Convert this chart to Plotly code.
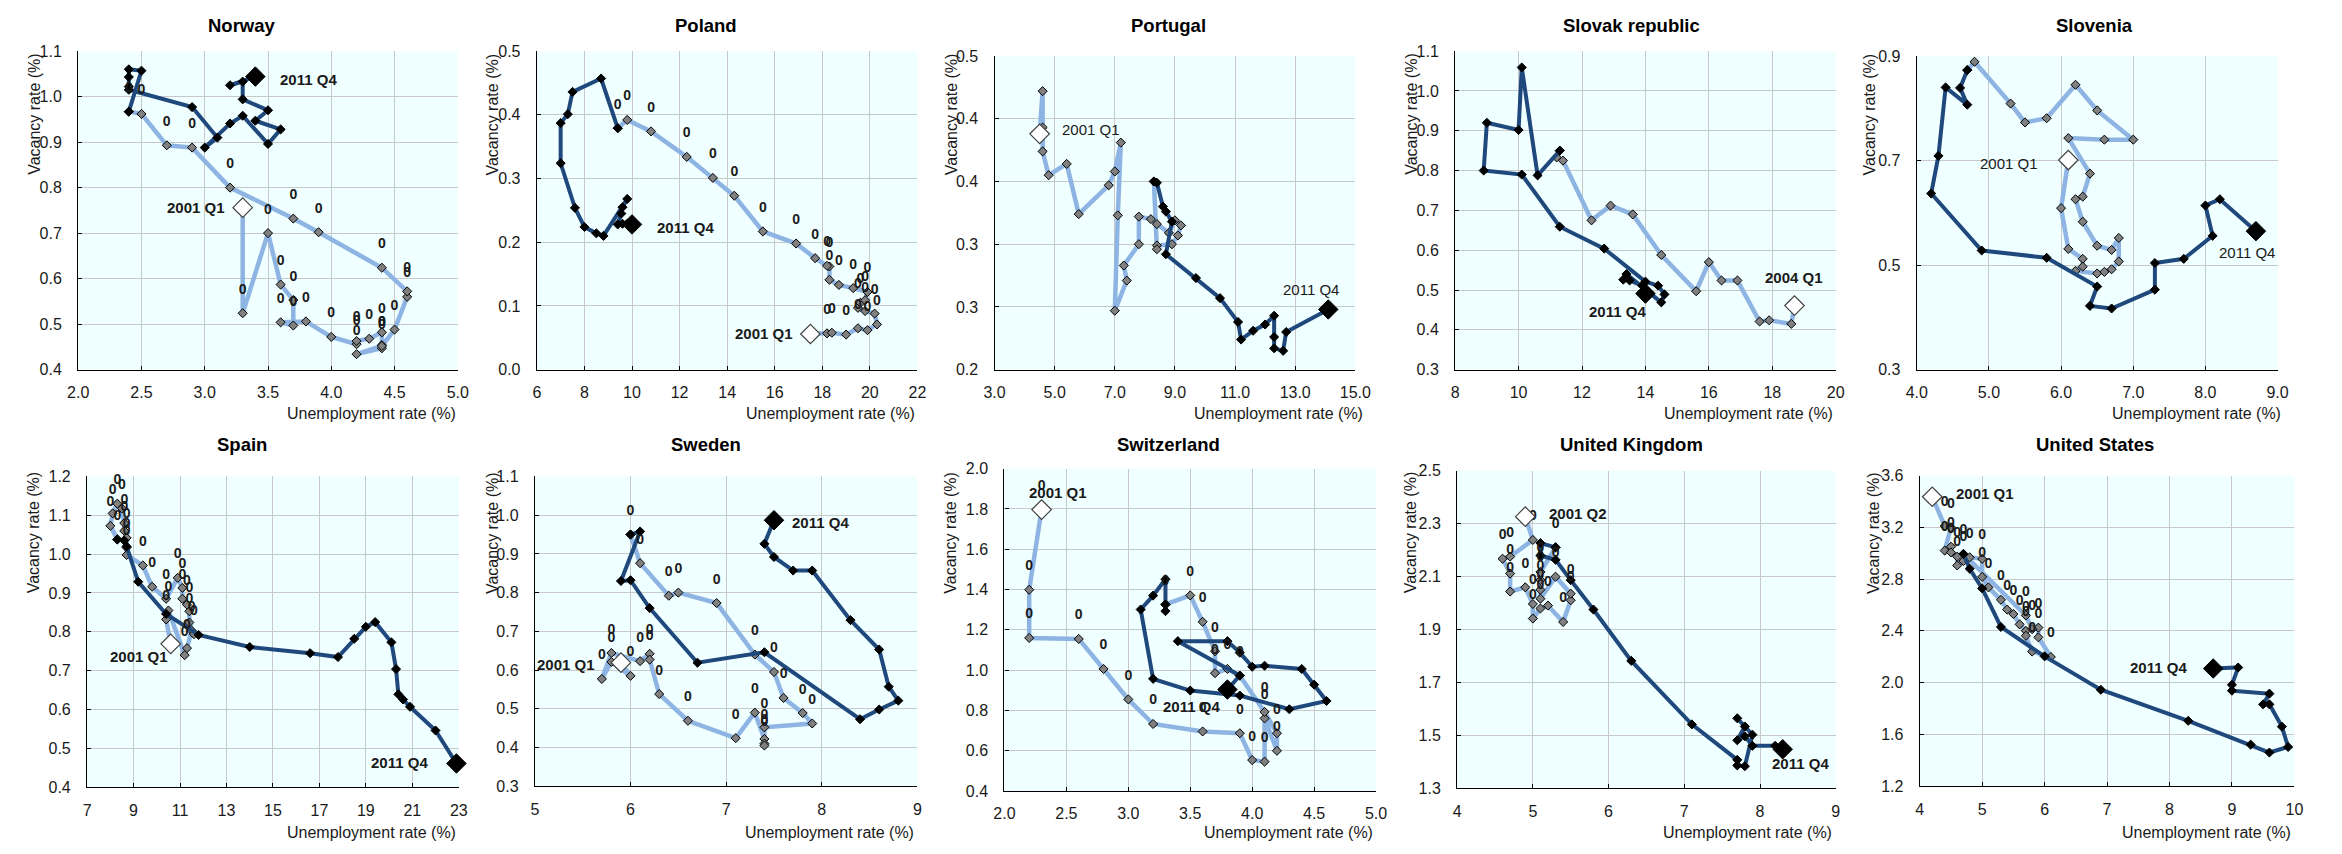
import plotly.graph_objects as go

# ---------------- DATA (unemployment rate U, vacancy rate V) ----------------
# Norway
NOR_START = [3.3, 0.756]
NOR_PRE_U = [3.3, 3.5, 3.6, 3.7, 3.7, 3.6, 3.8, 4.0, 4.2, 4.2, 4.3, 4.4, 4.4, 4.4, 4.2, 4.4, 4.5, 4.6, 4.6, 4.4, 3.9, 3.7, 3.2, 2.9, 2.7, 2.5, 2.4]
NOR_PRE_V = [0.524, 0.700, 0.587, 0.553, 0.497, 0.504, 0.506, 0.472, 0.456, 0.463, 0.468, 0.482, 0.454, 0.447, 0.434, 0.452, 0.488, 0.560, 0.572, 0.624, 0.702, 0.732, 0.800, 0.888, 0.893, 0.962, 0.967]
NOR_POST_U = [2.4, 2.5, 2.4, 2.4, 2.4, 2.4, 2.9, 3.1, 3.0, 3.2, 3.3, 3.5, 3.6, 3.4, 3.5, 3.3, 3.3, 3.2, 3.4]
NOR_POST_V = [0.967, 1.057, 1.060, 1.043, 1.022, 1.015, 0.977, 0.910, 0.888, 0.941, 0.958, 0.896, 0.928, 0.947, 0.970, 0.994, 1.033, 1.025, 1.044]
NOR_XTICKS = [2.0, 2.5, 3.0, 3.5, 4.0, 4.5, 5.0]
NOR_YTICKS = [0.4, 0.5, 0.6, 0.7, 0.8, 0.9, 1.0, 1.1]

# Poland
POL_START = [17.5, 0.056]
POL_PRE_U = [18.2, 18.4, 19.0, 19.5, 19.9, 20.3, 20.2, 19.8, 19.5, 19.6, 19.8, 19.9, 19.3, 18.7, 18.3, 18.3, 18.2, 17.7, 16.9, 15.5, 14.3, 13.4, 12.3, 10.8, 9.8, 9.4]
POL_PRE_V = [0.057, 0.058, 0.055, 0.065, 0.062, 0.071, 0.088, 0.092, 0.097, 0.105, 0.109, 0.122, 0.128, 0.133, 0.141, 0.162, 0.163, 0.175, 0.198, 0.217, 0.273, 0.301, 0.334, 0.374, 0.392, 0.379]
POL_POST_U = [9.4, 8.7, 7.5, 7.3, 7.0, 7.0, 7.6, 8.0, 8.5, 8.8, 9.8, 9.6, 9.55, 9.4, 9.6, 9.8, 10.0]
POL_POST_V = [0.379, 0.457, 0.436, 0.401, 0.387, 0.324, 0.254, 0.224, 0.214, 0.210, 0.268, 0.255, 0.245, 0.228, 0.229, 0.229, 0.228]
POL_XTICKS = [6, 8, 10, 12, 14, 16, 18, 20, 22]
POL_YTICKS = [0.0, 0.1, 0.2, 0.3, 0.4, 0.5]

# Portugal
PRT_START = [4.5, 0.388]
PRT_PRE_U = [4.6, 4.6, 4.6, 4.8, 5.4, 5.8, 6.8, 7.0, 7.2, 7.1, 7.0, 7.4, 7.3, 7.8, 7.8, 8.2, 8.4, 8.8, 9.0, 9.2, 9.1, 8.9, 8.4, 8.4, 8.3]
PRT_PRE_V = [0.422, 0.393, 0.374, 0.355, 0.364, 0.324, 0.347, 0.358, 0.381, 0.323, 0.247, 0.271, 0.283, 0.300, 0.322, 0.320, 0.316, 0.309, 0.319, 0.315, 0.307, 0.300, 0.299, 0.296, 0.350]
PRT_POST_U = [8.3, 8.4, 8.6, 8.7, 8.9, 8.7, 9.7, 10.5, 11.1, 11.2, 11.6, 12.0, 12.3, 12.3, 12.3, 12.6, 12.7, 14.1]
PRT_POST_V = [0.350, 0.349, 0.330, 0.326, 0.318, 0.292, 0.273, 0.257, 0.238, 0.224, 0.231, 0.236, 0.243, 0.226, 0.217, 0.215, 0.230, 0.248]
PRT_XTICKS = [3, 5, 7, 9, 11, 13, 15]
PRT_YTICKS = [0.2, 0.25, 0.3, 0.35, 0.4, 0.45]
PRT_YLABELS = ["0.2", "0.3", "0.3", "0.4", "0.4", "0.5"]

# Slovak republic
SVK_START = [18.7, 0.461]
SVK_PRE_U = [18.6, 17.9, 17.6, 16.9, 16.4, 16.0, 15.6, 14.5, 13.6, 12.9, 12.3, 11.4, 11.2, 11.3]
SVK_PRE_V = [0.415, 0.424, 0.421, 0.524, 0.524, 0.570, 0.497, 0.588, 0.690, 0.712, 0.675, 0.825, 0.833, 0.850]
SVK_POST_U = [11.3, 10.6, 10.1, 10.0, 9.0, 8.9, 10.1, 11.3, 12.7, 14.0, 14.4, 14.6, 14.5, 13.4, 13.3, 13.5, 13.9, 14.0]
SVK_POST_V = [0.850, 0.788, 1.059, 0.902, 0.920, 0.800, 0.790, 0.659, 0.604, 0.521, 0.511, 0.489, 0.469, 0.540, 0.526, 0.524, 0.511, 0.491]
SVK_XTICKS = [8, 10, 12, 14, 16, 18, 20]
SVK_YTICKS = [0.3, 0.4, 0.5, 0.6, 0.7, 0.8, 0.9, 1.0, 1.1]

# Slovenia
SVN_START = [6.1, 0.701]
SVN_PRE_U = [6.0, 6.1, 6.3, 6.3, 6.2, 6.5, 6.6, 6.7, 6.8, 6.8, 6.7, 6.5, 6.3, 6.2, 6.3, 6.4, 6.1, 6.6, 7.0, 6.5, 6.2, 5.8, 5.5, 5.3, 4.8, 4.7]
SVN_PRE_V = [0.609, 0.531, 0.512, 0.497, 0.489, 0.484, 0.487, 0.492, 0.507, 0.552, 0.529, 0.537, 0.583, 0.626, 0.631, 0.675, 0.743, 0.740, 0.740, 0.796, 0.845, 0.781, 0.773, 0.809, 0.889, 0.873]
SVN_POST_U = [4.7, 4.6, 4.7, 4.4, 4.3, 4.2, 4.9, 5.8, 6.5, 6.4, 6.7, 7.3, 7.3, 7.7, 8.1, 8.0, 8.2, 8.7]
SVN_POST_V = [0.873, 0.839, 0.807, 0.840, 0.709, 0.637, 0.528, 0.514, 0.459, 0.422, 0.417, 0.453, 0.504, 0.512, 0.556, 0.614, 0.626, 0.565]
SVN_XTICKS = [4, 5, 6, 7, 8, 9]
SVN_YTICKS = [0.3, 0.5, 0.7, 0.9]

# Spain
ESP_START = [10.6, 0.769]
ESP_PRE_U = [10.4, 10.5, 11.2, 11.3, 11.5, 11.6, 11.4, 11.4, 11.3, 11.1, 11.1, 10.9, 10.4, 9.8, 9.4, 8.7, 8.7, 8.7, 8.6, 8.6, 8.5, 8.3, 8.1, 8.0, 8.3]
ESP_PRE_V = [0.832, 0.855, 0.740, 0.758, 0.803, 0.794, 0.824, 0.853, 0.870, 0.885, 0.913, 0.939, 0.885, 0.916, 0.971, 0.998, 1.017, 1.042, 1.060, 1.080, 1.118, 1.130, 1.105, 1.073, 1.038]
ESP_POST_U = [8.3, 8.6, 8.7, 9.2, 10.4, 11.8, 14.0, 16.6, 17.8, 18.5, 19.0, 19.4, 20.1, 20.3, 20.4, 20.6, 20.9, 22.0, 22.9]
ESP_POST_V = [1.038, 1.035, 1.020, 0.929, 0.846, 0.792, 0.761, 0.745, 0.735, 0.782, 0.813, 0.825, 0.773, 0.704, 0.639, 0.626, 0.607, 0.546, 0.461]
ESP_XTICKS = [7, 9, 11, 13, 15, 17, 19, 21, 23]
ESP_YTICKS = [0.4, 0.5, 0.6, 0.7, 0.8, 0.9, 1.0, 1.1, 1.2]

# Sweden
SWE_START = [5.9, 0.619]
SWE_PRE_U = [6.0, 5.8, 5.7, 5.8, 6.1, 6.2, 6.2, 6.3, 6.6, 7.1, 7.3, 7.4, 7.4, 7.4, 7.4, 7.9, 7.8, 7.6, 7.5, 7.3, 6.9, 6.5, 6.4, 6.1, 6.0]
SWE_PRE_V = [0.585, 0.621, 0.577, 0.644, 0.623, 0.642, 0.627, 0.538, 0.469, 0.424, 0.490, 0.422, 0.410, 0.405, 0.452, 0.462, 0.489, 0.528, 0.595, 0.640, 0.773, 0.800, 0.792, 0.876, 0.950]
SWE_POST_U = [6.0, 6.1, 5.9, 6.0, 6.2, 6.7, 7.4, 8.4, 8.6, 8.8, 8.7, 8.6, 8.3, 7.9, 7.7, 7.5, 7.4, 7.5]
SWE_POST_V = [0.950, 0.958, 0.830, 0.832, 0.760, 0.619, 0.646, 0.473, 0.498, 0.521, 0.557, 0.653, 0.729, 0.857, 0.857, 0.892, 0.926, 0.987]
SWE_XTICKS = [5, 6, 7, 8, 9]
SWE_YTICKS = [0.3, 0.4, 0.5, 0.6, 0.7, 0.8, 0.9, 1.0, 1.1]

# Switzerland
CHE_START = [2.3, 1.797]
CHE_PRE_U = [2.2, 2.2, 2.6, 2.8, 3.0, 3.2, 3.6, 3.9, 4.0, 4.1, 4.1, 4.2, 4.2, 4.1, 3.9, 3.8, 3.7, 3.7, 3.6, 3.5, 3.3]
CHE_PRE_V = [1.399, 1.160, 1.155, 1.006, 0.855, 0.733, 0.696, 0.687, 0.554, 0.546, 0.761, 0.600, 0.687, 0.793, 0.973, 1.006, 0.985, 1.094, 1.240, 1.371, 1.326]
CHE_POST_U = [3.3, 3.3, 3.3, 3.2, 3.1, 3.2, 3.5, 3.9, 4.3, 4.6, 4.5, 4.4, 4.1, 4.0, 3.9, 3.8, 3.4, 3.9, 3.8]
CHE_POST_V = [1.326, 1.293, 1.451, 1.370, 1.301, 0.957, 0.899, 0.874, 0.806, 0.847, 0.928, 1.006, 1.022, 1.017, 1.087, 1.144, 1.144, 0.973, 0.904]
CHE_XTICKS = [2.0, 2.5, 3.0, 3.5, 4.0, 4.5, 5.0]
CHE_YTICKS = [0.4, 0.6, 0.8, 1.0, 1.2, 1.4, 1.6, 1.8, 2.0]

# United Kingdom
GBR_START = [4.9, 2.326]
GBR_PRE_U = [5.0, 4.7, 4.6, 4.7, 4.7, 4.9, 5.0, 5.0, 5.1, 5.2, 5.4, 5.5, 5.5, 5.3, 5.1, 5.1, 5.1, 5.1, 5.3]
GBR_PRE_V = [2.238, 2.175, 2.167, 2.111, 2.043, 2.059, 1.996, 1.941, 1.979, 1.990, 1.928, 2.010, 2.035, 2.099, 2.016, 2.050, 2.086, 2.117, 2.210]
GBR_POST_U = [5.3, 5.1, 5.1, 5.3, 5.5, 5.8, 6.3, 7.1, 7.7, 7.7, 7.8, 7.9, 7.7, 7.8, 7.7, 7.8, 7.9, 8.2, 8.3]
GBR_POST_V = [2.210, 2.226, 2.179, 2.163, 2.086, 1.975, 1.781, 1.541, 1.407, 1.386, 1.383, 1.502, 1.564, 1.533, 1.481, 1.496, 1.460, 1.460, 1.447]
GBR_XTICKS = [4, 5, 6, 7, 8, 9]
GBR_YTICKS = [1.3, 1.5, 1.7, 1.9, 2.1, 2.3, 2.5]

# United States
USA_START = [4.2, 3.436]
USA_PRE_U = [4.4, 4.5, 4.4, 4.5, 4.5, 4.6, 4.6, 4.7, 4.8, 5.0, 5.0, 5.1, 5.3, 5.4, 5.5, 5.6, 5.7, 5.7, 5.8, 6.1, 5.9, 5.9, 5.8, 5.7, 4.7]
USA_PRE_V = [3.21, 3.20, 3.02, 3.05, 3.006, 2.973, 2.905, 2.94, 2.968, 2.956, 2.817, 2.736, 2.64, 2.564, 2.53, 2.45, 2.40, 2.362, 2.24, 2.198, 2.35, 2.425, 2.413, 2.519, 2.994]
USA_POST_U = [4.7, 4.8, 5.0, 5.3, 6.0, 6.9, 8.3, 9.3, 9.6, 9.9, 9.8, 9.6, 9.5, 9.6, 9.0, 9.0, 9.1, 8.7]
USA_POST_V = [2.994, 2.880, 2.728, 2.430, 2.203, 1.945, 1.705, 1.521, 1.460, 1.503, 1.660, 1.832, 1.832, 1.915, 1.938, 1.983, 2.117, 2.109]
USA_XTICKS = [4, 5, 6, 7, 8, 9, 10]
USA_YTICKS = [1.2, 1.6, 2.0, 2.4, 2.8, 3.2, 3.6]

NAMES = ["Norway", "Poland", "Portugal", "Slovak republic", "Slovenia",
         "Spain", "Sweden", "Switzerland", "United Kingdom", "United States"]
START_TEXT = ["2001 Q1", "2001 Q1", "2001 Q1", "2004 Q1", "2001 Q1",
              "2001 Q1", "2001 Q1", "2001 Q1", "2001 Q2", "2001 Q1"]
END_TEXT = "2011 Q4"

# ---------------- STYLE / LAYOUT ----------------
W, H = 2342, 854
FONT = "Liberation Sans, Arial, sans-serif"
LIGHT = "#8DB4E2"
DARK = "#1F497D"
TXT = "#1a1a1a"

def f1(v):
    return f"{v:.1f}"

def fi(v):
    return f"{v:.0f}"

panels = [
    dict(pre=(NOR_PRE_U, NOR_PRE_V), post=(NOR_POST_U, NOR_POST_V), start=NOR_START,
         xt=NOR_XTICKS, yt=NOR_YTICKS, xf=f1, yf=f1, box=(68, 44, 452, 369), zeros=True,
         s_off=(-16, 0, "right"), e_off=(23, 3, "left"), bold=True, ytx=23, xtr=452),
    dict(pre=(POL_PRE_U, POL_PRE_V), post=(POL_POST_U, POL_POST_V), start=POL_START,
         xt=POL_XTICKS, yt=POL_YTICKS, xf=fi, yf=f1, box=(532, 44, 917, 369), zeros=True,
         s_off=(-15, 0, "right"), e_off=(23, 3, "left"), bold=True, ytx=487, xtr=917),
    dict(pre=(PRT_PRE_U, PRT_PRE_V), post=(PRT_POST_U, PRT_POST_V), start=PRT_START,
         xt=PRT_XTICKS, yt=PRT_YTICKS, xf=f1, ylab=PRT_YLABELS, box=(995, 49, 1360, 369), zeros=False,
         s_off=(20, -4, "left"), e_off=(-17, -20, "center"), bold=False, ytx=951, xtr=1370),
    dict(pre=(SVK_PRE_U, SVK_PRE_V), post=(SVK_POST_U, SVK_POST_V), start=SVK_START,
         xt=SVK_XTICKS, yt=SVK_YTICKS, xf=fi, yf=f1, box=(1461, 44, 1846, 369), zeros=False,
         s_off=(0, -28, "center"), e_off=(-28, 18, "center"), bold=True, ytx=1416, xtr=1845),
    dict(pre=(SVN_PRE_U, SVN_PRE_V), post=(SVN_POST_U, SVN_POST_V), start=SVN_START,
         xt=SVN_XTICKS, yt=SVN_YTICKS, xf=f1, yf=f1, box=(1928, 49, 2293, 369), zeros=False,
         s_off=(-28, 3, "right"), e_off=(-9, 21, "center"), bold=False, ytx=1880, xtr=2299),
    dict(pre=(ESP_PRE_U, ESP_PRE_V), post=(ESP_POST_U, ESP_POST_V), start=ESP_START,
         xt=ESP_XTICKS, yt=ESP_YTICKS, xf=fi, yf=f1, box=(77, 478, 453, 795), zeros=True,
         s_off=(-32, 13, "center"), e_off=(-26, -1, "right"), bold=True, ytx=23, xtr=452),
    dict(pre=(SWE_PRE_U, SWE_PRE_V), post=(SWE_POST_U, SWE_POST_V), start=SWE_START,
         xt=SWE_XTICKS, yt=SWE_YTICKS, xf=fi, yf=f1, box=(530, 478, 917, 794), zeros=True,
         s_off=(-24, 2, "right"), e_off=(16, 2, "left"), bold=True, ytx=487, xtr=916),
    dict(pre=(CHE_PRE_U, CHE_PRE_V), post=(CHE_POST_U, CHE_POST_V), start=CHE_START,
         xt=CHE_XTICKS, yt=CHE_YTICKS, xf=f1, yf=f1, box=(1005, 470, 1381, 799), zeros=True,
         start_zero=True,
         s_off=(16, -17, "center"), e_off=(-36, 17, "center"), bold=True, ytx=951, xtr=1380),
    dict(pre=(GBR_PRE_U, GBR_PRE_V), post=(GBR_POST_U, GBR_POST_V), start=GBR_START,
         xt=GBR_XTICKS, yt=GBR_YTICKS, xf=fi, yf=f1, box=(1463, 472, 1846, 796), zeros=True,
         s_off=(22, -3, "left"), e_off=(18, 14, "center"), bold=True, ytx=1416, xtr=1844),
    dict(pre=(USA_PRE_U, USA_PRE_V), post=(USA_POST_U, USA_POST_V), start=USA_START,
         xt=USA_XTICKS, yt=USA_YTICKS, xf=fi, yf=f1, box=(1931, 477, 2310, 794), zeros=True,
         s_off=(22, -3, "left"), e_off=(-24, -1, "right"), bold=True, ytx=1884, xtr=2309),
]

fig = go.Figure()
layout = dict(width=W, height=H, margin=dict(l=0, r=0, t=0, b=0),
              paper_bgcolor="white", plot_bgcolor="#F0FFFF", showlegend=False,
              font=dict(family=FONT, size=16, color=TXT), hovermode=False)
annotations = []

for i, p in enumerate(panels):
    k = "" if i == 0 else str(i + 1)
    xa, ya = "x" + k, "y" + k
    x0, y0, x1, y1 = p["box"]
    row = i // 5
    col = i % 5
    xt, yt = p["xt"], p["yt"]
    ylab = p.get("ylab") or [p["yf"](v) for v in yt]
    common = dict(showgrid=True, gridcolor="#C8C8C8", gridwidth=1, showline=True,
                  linecolor="#000000", linewidth=1.3, ticks="inside", ticklen=4,
                  tickcolor="#000000", zeroline=False, tickmode="array",
                  tickfont=dict(family=FONT, size=16, color=TXT))
    layout["xaxis" + k] = dict(common, domain=[x0 / W, x1 / W], anchor=ya,
                               range=[xt[0], xt[-1]], tickvals=xt,
                               ticktext=[p["xf"](v) for v in xt], ticklabelstandoff=8)
    layout["yaxis" + k] = dict(common, domain=[1 - y1 / H, 1 - y0 / H], anchor=xa,
                               range=[yt[0], yt[-1]], tickvals=yt, ticktext=ylab,
                               ticklabelstandoff=12)

    su, sv = p["start"]
    pu, pv = p["pre"]
    qu, qv = p["post"]

    # light (pre-crisis) line
    fig.add_trace(go.Scatter(x=[su] + list(pu), y=[sv] + list(pv), xaxis=xa, yaxis=ya,
                             mode="lines", line=dict(color=LIGHT, width=4.5), hoverinfo="skip"))
    fig.add_trace(go.Scatter(x=pu, y=pv, xaxis=xa, yaxis=ya, mode="markers",
                             marker=dict(symbol="diamond", size=7, color="#808080",
                                         line=dict(color="#000000", width=1)), hoverinfo="skip"))
    # dark (crisis) line
    fig.add_trace(go.Scatter(x=qu, y=qv, xaxis=xa, yaxis=ya, mode="lines+markers",
                             line=dict(color=DARK, width=4),
                             marker=dict(symbol="diamond", size=7, color="#000000",
                                         line=dict(color="#000000", width=1)), hoverinfo="skip"))
    # "0" data labels
    if p["zeros"]:
        lu = list(pu)
        lv = list(pv)
        if p.get("start_zero"):
            lu = [su] + lu
            lv = [sv] + lv
        fig.add_trace(go.Scatter(x=lu, y=lv, xaxis=xa, yaxis=ya, mode="markers+text",
                                 marker=dict(size=24, color="rgba(0,0,0,0)"),
                                 text=["0"] * len(lu), textposition="top center",
                                 textfont=dict(family=FONT, size=14, color=TXT, weight="bold"),
                                 hoverinfo="skip", cliponaxis=False))
    # start / end markers
    fig.add_trace(go.Scatter(x=[su], y=[sv], xaxis=xa, yaxis=ya, mode="markers",
                             marker=dict(symbol="diamond", size=15, color="white",
                                         line=dict(color="#404040", width=1.2)),
                             hoverinfo="skip", cliponaxis=False))
    fig.add_trace(go.Scatter(x=[qu[-1]], y=[qv[-1]], xaxis=xa, yaxis=ya, mode="markers",
                             marker=dict(symbol="diamond", size=15, color="#000000",
                                         line=dict(color="#000000", width=1)),
                             hoverinfo="skip", cliponaxis=False))

    lab_font = dict(family=FONT, size=15, color=TXT, weight="bold" if p["bold"] else "normal")
    dx, dy, anc = p["s_off"]
    annotations.append(dict(x=su, y=sv, xref=xa, yref=ya, text=START_TEXT[i], showarrow=False,
                            xanchor=anc, yanchor="middle", xshift=dx, yshift=-dy, font=lab_font))
    dx, dy, anc = p["e_off"]
    annotations.append(dict(x=qu[-1], y=qv[-1], xref=xa, yref=ya, text=END_TEXT, showarrow=False,
                            xanchor=anc, yanchor="middle", xshift=dx, yshift=-dy, font=lab_font))

    # panel title
    cell_top = 0 if row == 0 else 427
    annotations.append(dict(x=(col + 0.5) * W / 5 / W, y=1 - (cell_top + 18) / H, xref="paper",
                            yref="paper", text=NAMES[i], showarrow=False, xanchor="center",
                            yanchor="middle",
                            font=dict(family=FONT, size=18.5, color="#000000", weight="bold")))
    # axis titles
    annotations.append(dict(x=p["xtr"] / W, y=1 - (cell_top + 414) / H, xref="paper", yref="paper",
                            text="Unemployment rate (%)", showarrow=False, xanchor="right",
                            yanchor="middle", font=dict(family=FONT, size=16, color=TXT)))
    annotations.append(dict(x=p["ytx"] / W, y=1 - (cell_top + 44) / H, xref="paper", yref="paper",
                            text="Vacancy rate (%)", showarrow=False, xanchor="center",
                            yanchor="top", textangle=-90, font=dict(family=FONT, size=16, color=TXT)))

layout["annotations"] = annotations
fig.update_layout(**layout)
fig.write_html("out.html")
